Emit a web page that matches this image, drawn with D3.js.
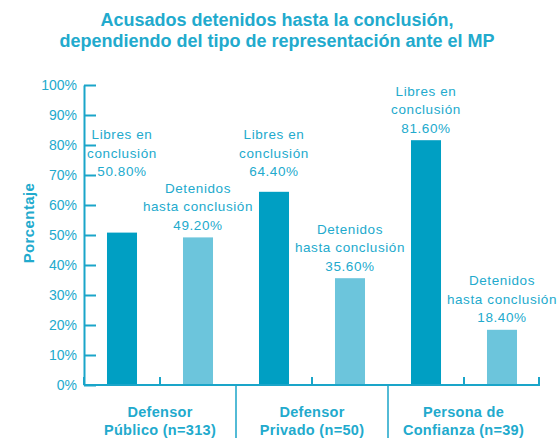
<!DOCTYPE html>
<html>
<head>
<meta charset="utf-8">
<script src="https://cdn.jsdelivr.net/npm/d3@7"></script>
<style>
  html, body { margin: 0; padding: 0; background: #ffffff; }
  svg { display: block; font-family: "Liberation Sans", Arial, sans-serif; }
</style>
</head>
<body>
<svg id="chart" width="557" height="438"></svg>
<script>
// ---- data ----
const titleLines = ["Acusados detenidos hasta la conclusión,", "dependiendo del tipo de representación ante el MP"];
const groupLine1 = ["Defensor", "Defensor", "Persona de"];
const groupLine2 = ["Público (n=313)", "Privado (n=50)", "Confianza (n=39)"];
const libresLabel = ["Libres en", "conclusión"];
const detenidosLabel = ["Detenidos", "hasta conclusión"];
const libres = [50.8, 64.4, 81.6];
const detenidos = [49.2, 35.6, 18.4];
const yTicks = [0, 10, 20, 30, 40, 50, 60, 70, 80, 90, 100];
const yTitle = "Porcentaje";

// ---- styles ----
const axisColor = "#1aa5c9";
const textColor = "#22aacd";
const darkBar = "#009fc3";
const lightBar = "#6cc5dc";

const svg = d3.select("#chart");

// flatten bars
const bars = [];
libres.forEach((v, i) => {
  bars.push({ key: i + "-L", group: i, series: 0, value: v, lines: libresLabel });
  bars.push({ key: i + "-D", group: i, series: 1, value: detenidos[i], lines: detenidosLabel });
});

const x = d3.scaleBand()
  .domain(bars.map(d => d.key))
  .range([84, 540])
  .paddingInner(0.605)
  .paddingOuter(0.3025);

const y = d3.scaleLinear().domain([0, 100]).range([385, 85]);

// title
svg.append("g").selectAll("text")
  .data(titleLines)
  .join("text")
  .attr("x", 277)
  .attr("y", (d, i) => 26 + i * 21)
  .attr("text-anchor", "middle")
  .attr("font-size", "18px")
  .attr("font-weight", "bold")
  .attr("fill", textColor)
  .text(d => d);

// y axis
const yAxis = d3.axisLeft(y)
  .tickValues(yTicks)
  .tickFormat(d => d + "%")
  .tickSize(-12)
  .tickSizeOuter(0)
  .tickPadding(7);

const gy = svg.append("g").attr("transform", "translate(84,0)").call(yAxis);
gy.select(".domain").attr("stroke", axisColor).attr("stroke-width", 2);
gy.selectAll(".tick line").attr("stroke", axisColor).attr("stroke-width", 2);
gy.selectAll(".tick text")
  .attr("fill", textColor)
  .attr("font-size", "14px")
  .attr("font-family", "Liberation Sans, Arial, sans-serif");

// y title
svg.append("text")
  .attr("transform", "translate(34,223) rotate(-90)")
  .attr("text-anchor", "middle")
  .attr("font-size", "15px")
  .attr("letter-spacing", "0.4px")
  .attr("font-weight", "bold")
  .attr("fill", textColor)
  .text(yTitle);

// bars
svg.append("g").selectAll("rect")
  .data(bars)
  .join("rect")
  .attr("x", d => x(d.key))
  .attr("y", d => y(d.value))
  .attr("width", x.bandwidth())
  .attr("height", d => y(0) - y(d.value))
  .attr("fill", d => d.series === 0 ? darkBar : lightBar);

// bottom axis line
const step = x.step();
const gap = step - x.bandwidth();
const xAxisG = svg.append("g");
xAxisG.append("line")
  .attr("x1", x.range()[0]).attr("x2", x.range()[1])
  .attr("y1", y(0)).attr("y2", y(0))
  .attr("stroke", axisColor).attr("stroke-width", 2);

// boundaries between bands
const boundaries = [x.range()[0]];
bars.forEach(d => boundaries.push(x(d.key) + x.bandwidth() + gap / 2));
boundaries[boundaries.length - 1] = x.range()[1] - 1;

boundaries.forEach((bx, i) => {
  const isGroupSep = i > 0 && i < boundaries.length - 1 && i % 2 === 0;
  xAxisG.append("line")
    .attr("x1", bx).attr("x2", bx)
    .attr("y1", y(0))
    .attr("y2", isGroupSep ? 438 : y(0) - 8)
    .attr("stroke", axisColor).attr("stroke-width", isGroupSep ? 1.5 : 2);
});

// group labels
const groupCenters = libres.map((v, i) => (boundaries[i * 2] + boundaries[i * 2 + 2]) / 2);
const gl = svg.append("g").selectAll("g")
  .data(groupCenters)
  .join("g");
gl.append("text")
  .attr("x", d => d).attr("y", 417)
  .attr("text-anchor", "middle")
  .attr("font-size", "14.5px").attr("font-weight", "bold")
  .attr("letter-spacing", "0.3px")
  .attr("fill", textColor)
  .text((d, i) => groupLine1[i]);
gl.append("text")
  .attr("x", d => d).attr("y", 435)
  .attr("text-anchor", "middle")
  .attr("font-size", "14.5px").attr("font-weight", "bold")
  .attr("letter-spacing", "0.3px")
  .attr("fill", textColor)
  .text((d, i) => groupLine2[i]);

// value labels (lifted where needed to avoid overlaps)
const lift = { "0-L": 49, "1-L": 8 };
const lineH = 18.5;
const lbl = svg.append("g").selectAll("text")
  .data(bars)
  .join("text")
  .attr("text-anchor", "middle")
  .attr("font-size", "13.5px")
  .attr("letter-spacing", "0.6px")
  .attr("fill", textColor);

lbl.each(function (d) {
  const base = y(d.value) - 7.5 - (lift[d.key] || 0);
  const cx = x(d.key) + x.bandwidth() / 2;
  const lines = [...d.lines, d.value.toFixed(2) + "%"];
  const t = d3.select(this);
  lines.forEach((s, k) => {
    t.append("tspan")
      .attr("x", cx)
      .attr("y", base - (lines.length - 1 - k) * lineH)
      .text(s);
  });
});
</script>
</body>
</html>
